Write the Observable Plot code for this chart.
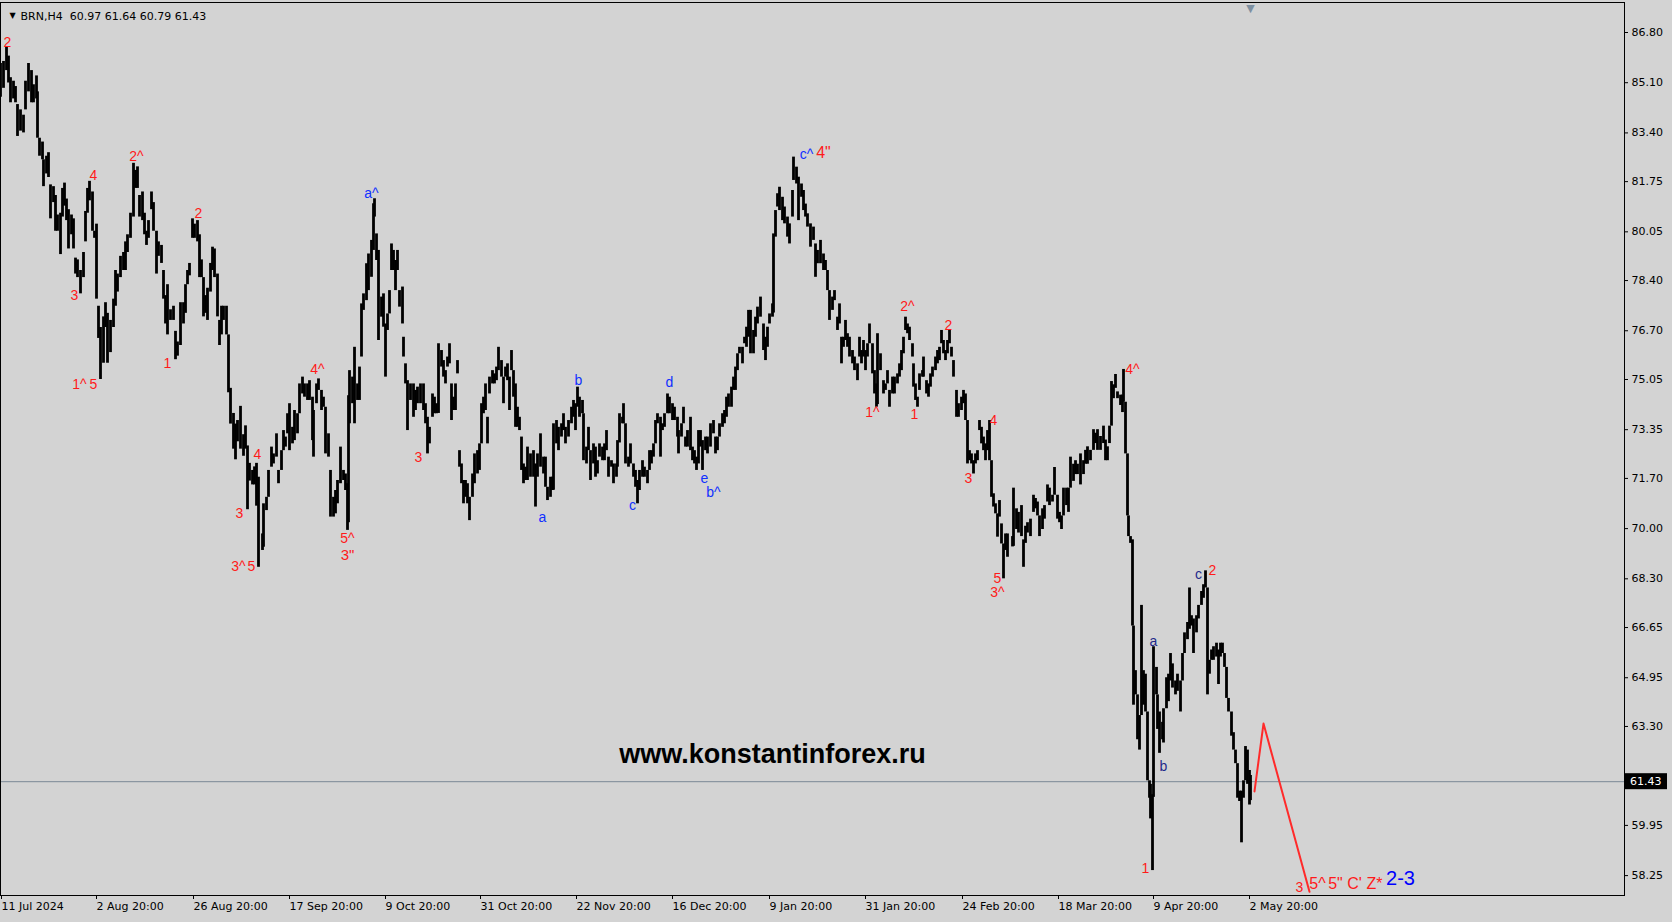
<!DOCTYPE html>
<html>
<head>
<meta charset="utf-8">
<script src="https://cdn.jsdelivr.net/npm/d3@7"></script>
<script src="https://cdn.jsdelivr.net/npm/@observablehq/plot@0.6"></script>
<style>
  html, body { margin: 0; padding: 0; background: #d3d3d3; }
  #chart svg { display: block; }
</style>
</head>
<body>
<div id="chart"></div>
<script>
// ---- H4 bars (bar position, high, low) ----
const barPos = [
0,3,6,8,10,13,15,17,20,23,25,28,31,33,36,37,39,42,43,46,48,50,53,55,57,60,62,64,66,68,71,73,75,77,80,83,85,87,89,92,94,96,98,100,103,105,107,110,113,115,117,120,123,125,127,130,133,135,137,139,142,144,146,148,151,153,156,158,161,163,165,167,170,173,175,177,180,183,185,187,189,192,194,197,199,201,203,205,207,210,212,214,217,219,221,223,226,228,230,233,235,237,240,243,245,247,249,252,254,256,
258,262,263,266,268,271,273,276,278,281,283,285,287,289,292,294,297,299,302,304,307,309,312,313,316,318,321,323,325,328,330,333,335,337,340,343,345,347,348,349,352,354,357,359,361,363,366,368,371,373,374,376,378,381,383,385,387,389,391,393,395,397,399,402,403,405,407,410,413,415,417,420,423,425,427,429,432,434,436,438,441,443,445,447,449,451,453,455,457,459,461,463,465,467,469,472,474,477,479,481,483,485,487,489,492,494,496,498,501,503,505,507,509,
511,513,515,517,519,521,523,525,527,530,533,535,537,540,543,545,547,550,552,553,556,558,561,563,565,568,571,573,575,577,579,582,583,586,588,590,593,595,597,599,602,604,606,608,611,613,616,617,619,622,623,625,628,630,633,635,637,639,642,644,647,649,651,653,655,657,660,662,664,667,669,672,674,677,678,681,683,685,687,690,692,694,696,698,700,702,705,707,710,713,715,717,719,722,724,726,728,731,733,735,737,739,742,744,746,748,
750,753,755,757,760,763,765,767,769,772,773,775,777,779,782,784,787,789,792,793,796,798,801,803,805,807,810,813,815,817,820,823,825,827,829,832,834,837,839,841,843,845,847,849,852,854,857,859,861,863,865,867,869,872,874,876,877,880,883,885,887,889,892,894,897,899,901,903,905,907,909,912,913,915,917,919,922,923,926,928,930,932,935,937,939,941,943,945,947,949,951,953,956,958,961,963,965,967,969,971,973,975,977,979,981,983,985,987,989,991,993,995,997,999,1001,1003,1005,1007,
1012,1013,1016,1018,1021,1023,1025,1027,1030,1033,1035,1037,1039,1042,1044,1047,1049,1052,1054,1057,1059,1061,1063,1066,1068,1070,1073,1075,1077,1080,1083,1085,1087,1090,1093,1095,1097,1100,1103,1105,1107,1109,1111,1113,1115,1117,1120,1122,1123,1125,1127,1128,1130,1132,1133,1135,1137,1139,1141,1143,1145,1147,1149,1150,1152,1153,1156,1157,1159,1162,1163,1166,1168,1170,1172,1175,1177,1180,1182,1184,1187,1189,1191,1193,1196,1198,1201,1203,1205,1207,1209,1211,1213,1216,1218,1220,1222,1224,1226,1228,1231,1233,1235,1237,1239,1241,1243,1245,1247,1249,1250
];
const barHigh = [
85.75,85.82,86.30,86.00,85.27,85.15,84.97,84.36,84.18,84.00,85.15,85.75,85.51,85.03,85.33,84.79,83.22,83.09,82.49,82.61,82.73,81.64,81.58,81.28,80.62,80.68,81.52,81.70,81.16,80.80,80.62,80.49,79.16,79.10,78.74,79.35,80.74,81.52,81.76,81.40,80.07,80.31,77.53,76.81,77.17,77.65,77.29,77.05,77.77,78.74,78.62,79.22,79.35,79.71,79.95,80.68,82.37,82.13,82.25,81.28,81.40,80.68,80.07,80.43,81.40,81.04,80.07,79.71,79.59,78.74,77.89,78.26,77.41,77.53,76.68,76.32,77.65,77.65,78.26,78.74,78.98,80.49,80.31,80.43,79.95,79.10,78.50,77.89,78.14,78.98,79.53,79.47,78.62,77.05,77.53,77.53,77.53,76.56,74.75,73.90,73.54,73.66,74.14,73.18,73.48,72.80,72.21,71.97,72.09,72.21,
71.74,69.82,70.84,71.06,71.97,72.76,72.53,73.21,71.97,72.64,73.32,73.10,73.89,74.23,73.43,74.00,73.89,74.90,75.13,74.90,74.90,75.01,74.45,74.00,74.90,75.07,74.68,74.45,74.11,73.21,71.97,71.06,71.29,71.63,72.76,71.97,71.85,71.52,74.50,75.35,75.13,76.14,74.90,75.47,77.61,77.95,78.97,79.30,79.76,81.00,81.17,79.98,79.42,77.84,77.95,76.93,77.27,78.06,79.64,79.42,79.08,79.42,78.06,78.18,76.48,75.58,75.01,74.90,74.90,74.68,74.79,74.90,74.90,74.23,73.77,73.43,74.56,74.45,74.23,76.26,76.03,75.69,75.35,75.81,76.26,74.90,74.45,74.90,75.69,72.64,72.19,71.63,71.63,71.52,71.06,71.85,72.53,72.64,72.87,74.23,74.45,74.90,73.77,75.13,75.35,75.24,75.47,76.14,75.69,75.13,75.47,75.58,75.13,
76.03,75.35,74.90,74.11,73.77,73.10,72.19,72.08,72.76,72.53,72.64,72.19,72.53,73.21,72.42,72.42,71.40,71.74,71.74,73.55,73.66,73.43,73.55,73.89,73.43,73.66,74.11,74.34,74.23,74.79,74.45,74.34,73.89,72.76,73.43,72.64,72.87,72.76,72.30,72.87,72.76,72.87,73.32,72.42,72.30,72.19,72.19,72.98,73.89,73.77,74.23,73.55,72.42,72.87,72.19,71.97,71.63,71.97,72.30,72.08,71.97,72.64,72.64,72.87,73.66,73.89,73.77,73.55,73.89,74.56,74.45,74.23,74.11,73.77,73.32,73.55,74.11,73.10,73.32,73.77,72.76,72.64,72.42,73.32,73.32,72.98,73.10,73.10,73.55,73.66,73.10,73.10,73.55,73.89,74.00,74.45,74.56,74.79,75.13,75.47,75.92,76.14,76.14,76.48,76.82,77.39,
77.39,76.71,77.16,77.50,77.84,76.93,76.48,76.82,77.27,77.61,79.98,80.77,81.34,81.56,81.22,80.89,80.55,80.32,81.45,82.58,82.24,81.90,81.67,81.45,80.99,80.66,80.32,80.21,79.64,79.42,79.76,79.30,79.08,78.74,78.06,77.84,78.06,77.16,77.61,76.48,76.48,77.05,76.60,76.48,76.03,75.81,75.58,76.48,76.03,76.37,76.03,76.26,76.93,76.26,75.35,74.90,76.60,75.92,75.01,74.90,75.35,74.68,75.13,75.13,75.24,75.58,76.03,76.48,77.16,76.93,76.82,76.26,75.58,74.90,74.45,75.24,75.35,75.81,75.01,74.90,75.24,75.47,75.81,76.03,76.14,76.71,76.37,76.03,76.37,76.71,76.14,75.69,74.68,74.23,74.45,74.68,74.56,73.66,72.64,72.53,72.30,72.53,72.64,73.66,73.43,73.10,72.87,73.32,73.66,72.30,71.18,70.84,70.50,70.95,70.16,69.48,69.82,69.82,
69.73,71.37,70.67,70.55,70.78,69.62,70.08,70.20,70.32,71.13,71.02,70.90,70.43,70.67,70.78,71.48,71.37,71.13,72.07,71.13,70.55,70.43,71.37,71.37,71.37,72.42,72.18,72.30,72.18,72.53,72.30,72.65,72.77,72.65,73.35,73.23,73.35,73.12,73.47,73.00,72.77,73.47,74.98,74.87,75.22,74.63,74.52,74.52,75.39,74.28,72.53,70.43,69.73,69.62,66.70,65.19,64.37,63.67,67.40,65.19,65.07,63.79,61.46,61.34,60.99,66.00,65.30,64.37,63.79,63.44,63.90,64.95,65.07,65.77,65.42,64.84,65.07,64.84,65.77,66.47,66.82,67.99,67.05,66.94,67.05,67.40,67.87,68.10,68.57,67.99,65.54,65.89,66.00,66.12,65.89,66.12,66.12,65.77,65.30,64.25,63.79,63.09,62.50,62.04,61.11,61.11,61.46,62.62,62.50,61.81,61.64
];
const barLow = [
84.61,84.91,85.51,85.09,84.42,84.55,84.42,83.28,83.46,83.40,84.18,84.79,84.42,84.42,84.55,83.22,82.61,82.49,81.58,82.01,81.89,80.49,81.04,80.07,80.07,79.28,80.55,80.92,80.43,79.47,79.95,79.47,78.62,78.50,77.95,78.50,79.71,80.68,81.10,80.07,79.83,77.77,76.44,75.05,75.60,76.81,75.60,75.96,76.81,77.53,78.01,78.50,78.74,78.74,79.35,79.83,80.55,81.52,81.52,80.55,80.43,79.95,79.59,79.83,80.80,80.07,78.62,79.22,78.98,77.77,76.93,76.56,77.05,77.05,75.72,75.84,76.20,76.93,77.29,78.26,78.56,79.83,79.83,79.71,78.50,78.50,77.17,77.29,77.05,78.01,78.74,78.50,77.17,76.20,76.56,77.05,76.56,74.60,73.54,72.69,72.33,72.94,72.69,72.45,72.69,70.64,71.61,71.48,71.48,70.76,
68.69,69.26,69.37,70.61,71.06,72.08,72.19,72.42,71.52,71.97,72.64,72.76,73.21,72.64,72.87,72.98,73.21,73.89,74.56,74.45,74.34,74.34,72.98,72.42,74.23,74.68,74.00,74.11,72.53,72.42,70.39,70.39,70.50,70.84,71.52,71.63,71.29,69.94,70.20,73.55,74.23,73.55,74.34,74.34,75.81,77.39,77.72,78.06,78.51,79.42,80.55,79.08,76.37,77.16,76.82,75.13,76.71,77.27,78.74,78.74,78.06,78.74,77.50,76.93,75.81,74.90,73.32,74.34,73.77,74.00,74.23,74.23,74.00,73.55,72.53,72.87,73.77,73.89,73.89,73.90,75.47,75.13,74.90,75.47,75.58,73.66,74.00,74.00,75.24,72.08,71.52,70.84,71.06,70.84,70.27,71.06,71.52,71.85,71.97,72.87,73.89,74.00,72.87,74.56,74.90,74.90,75.01,75.35,75.13,74.23,75.13,75.01,74.00,
75.35,74.45,73.43,73.43,73.32,71.97,71.52,71.63,71.63,71.74,71.74,70.73,71.74,72.08,71.85,71.40,70.95,71.06,71.29,71.30,72.87,72.64,73.10,73.32,72.87,73.10,73.55,73.77,73.32,74.11,73.77,73.89,72.30,72.19,72.64,71.63,72.19,71.74,71.85,72.42,72.30,72.30,72.64,71.74,72.08,71.52,71.74,72.08,72.90,73.55,73.55,72.19,72.08,72.19,71.74,71.40,70.84,71.29,71.74,71.74,71.52,71.97,72.19,72.42,72.87,73.55,72.42,73.32,73.43,73.89,73.89,73.66,73.66,73.10,72.53,73.10,73.55,72.76,72.76,72.64,72.30,72.19,71.97,72.19,72.76,71.97,72.64,72.53,72.76,73.21,72.53,72.64,73.10,73.43,73.55,73.77,74.11,74.11,74.68,74.68,75.35,75.92,75.58,76.26,76.14,76.48,
75.92,75.92,76.48,76.93,77.16,76.03,75.69,76.14,76.93,77.16,77.30,79.87,80.89,80.77,80.43,80.32,79.87,79.64,80.55,81.79,81.67,80.43,81.22,80.77,80.55,80.21,79.53,79.76,78.51,78.97,78.97,78.74,78.74,78.06,77.05,77.39,77.72,76.71,76.93,75.58,76.14,76.37,76.14,75.81,75.58,75.35,75.01,75.81,75.58,75.81,75.35,75.81,76.26,75.24,74.56,74.11,74.20,75.35,74.56,74.68,74.90,74.11,74.56,74.56,74.90,75.13,75.35,75.92,76.71,76.60,76.37,75.81,74.79,74.34,74.11,74.68,75.13,75.13,74.56,74.45,74.79,75.13,75.35,75.58,75.69,76.26,75.92,75.69,75.92,76.26,75.81,75.13,73.77,73.77,74.00,74.23,73.66,72.19,72.30,72.19,71.85,72.19,72.30,73.32,72.87,72.64,72.30,72.64,72.30,71.06,70.73,70.50,69.71,70.39,69.48,68.30,69.26,69.03,
69.38,69.40,69.97,69.85,69.73,68.69,69.50,69.85,69.73,70.55,70.67,70.43,69.73,69.97,70.32,70.90,70.78,70.90,71.13,70.32,70.20,69.97,70.43,70.78,70.55,71.37,71.60,71.83,71.83,71.48,71.83,72.18,72.18,72.30,72.65,72.88,72.65,72.65,72.88,72.30,72.30,72.88,73.47,74.40,74.75,74.40,74.17,73.93,74.28,72.53,70.43,69.73,69.50,66.70,64.02,64.37,62.85,62.50,63.67,64.02,63.79,61.46,60.87,60.17,58.42,60.90,64.37,63.20,62.39,62.85,62.74,63.90,64.14,64.84,64.60,64.37,64.49,63.79,64.84,65.77,66.24,66.59,66.70,65.77,66.47,66.94,67.40,67.64,67.99,64.37,65.07,65.54,65.54,65.65,64.72,65.65,65.77,65.30,64.25,63.79,62.97,62.50,62.04,60.87,60.76,59.36,60.87,61.46,61.34,60.64,60.79
];

// ---- price scale ticks (right axis) ----
const yTicks = [86.80,85.10,83.40,81.75,80.05,78.40,76.70,75.05,73.35,71.70,70.00,68.30,66.65,64.95,63.30,61.60,59.95,58.25];
const hiddenTick = 61.60; // covered by the current-price box

// ---- time scale ticks (bar positions and labels) ----
const xTickPos = [1,96,193,289,385,480,576,672,769,865,962,1058,1153,1249];
const xTickLabels = ["11 Jul 2024","2 Aug 20:00","26 Aug 20:00","17 Sep 20:00","9 Oct 20:00","31 Oct 20:00","22 Nov 20:00","16 Dec 20:00","9 Jan 20:00","31 Jan 20:00","24 Feb 20:00","18 Mar 20:00","9 Apr 20:00","2 May 20:00"];

// ---- header / current price ----
const symbolHeader = "BRN,H4\u00a0\u00a060.97 61.64 60.79 61.43";
const lastClose = 61.43;
const shiftMarkerBar = [1250];

// ---- forecast path ----
const forecastBar = [1254, 1263, 1309];
const forecastPrice = [61.10, 63.40, 57.70];

// ---- wave labels ----
const waveText  = ["2","4","3","1^","5","2^","2","1","4","3","3^","5","4^","3","5^","3\"","2^","1^","2","1","4","3","5","3^","4^","2","1","3",
                   "a^","a","b","c","d","e","b^","c^","a","b","c","4\"","5^","5\"","C'","Z*","2-3"];
const waveBar   = [7,93,74,79,93,136,198,167,257,239,238,251,317,418,347,347,907,872,948,914,993,968,997,997,1132,1212,1145,1299,
                   371,542,578,632,669,704,713,806,1153,1163,1198,823,1317,1335,1354,1374,1400];
const wavePrice = [86.46,81.96,77.89,74.88,74.88,82.60,80.67,75.59,72.51,70.51,68.72,68.72,75.39,72.41,69.66,69.09,77.52,73.93,76.88,73.86,73.66,71.70,68.31,67.84,75.39,68.58,58.49,57.85,
                   81.35,70.38,75.02,70.78,74.95,71.70,71.22,82.67,66.18,61.94,68.45,82.74,57.98,57.98,57.98,57.98,58.15];
const waveStyle = ["r","r","r","r","r","r","r","r","r","r","r","r","r","r","r","r3","r","r","r","r","r","r","r","r","r","r","r","r",
                   "b","b","b","b","b","b","b","b","n","n","n","R","R","R","R","R","B"];

// ---- watermark ----
const watermarkText = ["www.konstantinforex.ru"];
const watermarkBar = [772];
const watermarkPrice = [62.35];

// ---- build tables ----
const bars = barPos.map((x, i) => ({x, high: barHigh[i], low: barLow[i]}));
const forecast = forecastBar.map((x, i) => ({x, y: forecastPrice[i]}));
const waves = waveText.map((t, i) => ({t, x: waveBar[i], y: wavePrice[i], s: waveStyle[i]}));
const styleMap = {
  r:  {fill: "#ff1a1a", size: 14},
  r3: {fill: "#ff1a1a", size: 15},
  R:  {fill: "#ff1a1a", size: 16},
  b:  {fill: "#1030ff", size: 14},
  n:  {fill: "#1f2a8a", size: 14},
  B:  {fill: "#0000ff", size: 20}
};
const tickLabel = new Map(xTickPos.map((p, i) => [p, xTickLabels[i]]));

const waveMarks = Object.entries(styleMap).map(([k, st]) =>
  Plot.text(waves.filter(d => d.s === k), {
    x: "x", y: "y", text: "t", fill: st.fill, fontSize: st.size,
    fontFamily: "Liberation Sans, Arial, sans-serif"
  })
);

const chart = Plot.plot({
  width: 1672,
  height: 922,
  marginLeft: 0,
  marginRight: 48,
  marginTop: 2,
  marginBottom: 27,
  style: {background: "#d3d3d3", color: "#000", fontFamily: "DejaVu Sans, sans-serif", fontSize: "11px"},
  x: {domain: [0, 1624], axis: null, label: null},
  y: {domain: [57.576, 87.816], axis: null, label: null},
  marks: [
    Plot.axisY({anchor: "right", label: null, ticks: yTicks, tickFormat: d => (d === hiddenTick ? "" : d.toFixed(2)), tickSize: 3, tickPadding: 4, fontSize: 11, stroke: "#000", fill: "#000"}),
    Plot.axisX({anchor: "bottom", label: null, ticks: xTickPos, tickFormat: d => tickLabel.get(d), tickSize: 4, tickPadding: 3, textAnchor: "start", fontSize: 11, stroke: "#000", fill: "#000"}),
    Plot.ruleY([lastClose], {stroke: "#7a8896", strokeWidth: 1}),
    Plot.text(watermarkText, {x: watermarkBar, y: watermarkPrice, text: d => d, fontSize: 27, fontWeight: "bold", fill: "#000", fontFamily: "Liberation Sans, Arial, sans-serif"}),
    Plot.ruleX(bars, {x: "x", y1: "low", y2: "high", stroke: "#000", strokeWidth: 2.8}),
    Plot.line(forecast, {x: "x", y: "y", stroke: "#ff2a2a", strokeWidth: 2}),
    ...waveMarks,
    Plot.text([symbolHeader], {frameAnchor: "top-left", dx: 20, dy: 10, text: d => d, fontSize: 11, fill: "#000", textAnchor: "start"}),
    Plot.text(["\u25BC"], {frameAnchor: "top-left", dx: 9, dy: 10, text: d => d, fontSize: 8, fill: "#000"}),
    Plot.text(shiftMarkerBar, {x: d => d, frameAnchor: "top", dy: 2, text: () => "\u25BC", fontSize: 11, fill: "#7d8fa0"}),
    Plot.frame({stroke: "#000", strokeWidth: 1})
  ]
});

document.getElementById("chart").appendChild(chart);

// current price box on the price scale, positioned through the y scale
const yPx = chart.scale("y").apply(lastClose);
const svg = d3.select(chart);
svg.append("rect").attr("x", 1625).attr("y", yPx - 8).attr("width", 42).attr("height", 16).attr("fill", "#000");
svg.append("text").attr("x", 1630).attr("y", yPx).attr("dy", "0.35em").attr("text-anchor", "start")
  .attr("fill", "#fff").attr("font-family", "DejaVu Sans, sans-serif").attr("font-size", 11).text(lastClose.toFixed(2));
</script>
</body>
</html>
